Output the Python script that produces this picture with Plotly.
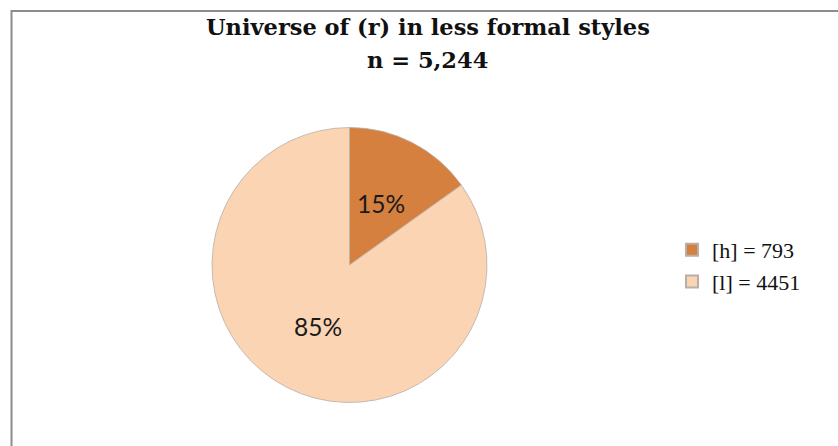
import math
import plotly.graph_objects as go

# Tokens of (r) in less formal styles
categories = ["[h]", "[l]"]
counts = [793, 4451]
colors = ["#D5803E", "#FBD4B4"]

title_line1 = "Universe of (r) in less formal styles"
total = sum(counts)
legend_names = [f"{c} = {n}" for c, n in zip(categories, counts)]

W, H = 838, 446
cx, cy, R = 349.5, 265.0, 137.5  # pie centre and radius in pixels

fig = go.Figure(
    go.Pie(
        labels=legend_names,
        values=counts,
        sort=False,
        direction="clockwise",
        rotation=0,
        marker=dict(colors=colors, line=dict(color="#B8B0A8", width=0.8)),
        textinfo="none",
        hoverinfo="label+percent",
        domain=dict(x=[(cx - R) / W, (cx + R) / W], y=[1 - (cy + R) / H, 1 - (cy - R) / H]),
    )
)

# percentage labels at half radius along each slice's mid-angle
annotations = []
cum = 0
for n in counts:
    mid = (cum + n / 2) / total
    cum += n
    ang = 2 * math.pi * mid
    px = cx + 0.5 * R * math.sin(ang)
    py = cy - 0.5 * R * math.cos(ang)
    annotations.append(
        dict(
            x=px / W, y=1 - py / H, xref="paper", yref="paper",
            text=f"{round(100 * n / total)}%", showarrow=False,
            xanchor="center", yanchor="middle",
            font=dict(family="Lato", size=24.5, color="#1a1a1a"),
        )
    )

annotations += [
    dict(
        x=428 / W, y=1 - 27 / H, xref="paper", yref="paper",
        text=f"<b>{title_line1}</b>", showarrow=False,
        xanchor="center", yanchor="middle",
        font=dict(family="DejaVu Serif", size=22.5, color="#111111"),
    ),
    dict(
        x=428 / W, y=1 - 60 / H, xref="paper", yref="paper",
        text=f"<b>n = {total:,}</b>", showarrow=False,
        xanchor="center", yanchor="middle",
        font=dict(family="DejaVu Serif", size=22.5, color="#111111"),
    ),
]

fig.update_layout(
    width=W,
    height=H,
    margin=dict(l=0, r=0, t=0, b=0),
    paper_bgcolor="white",
    annotations=annotations,
    legend=dict(
        x=672 / W,
        y=1 - 266 / H,
        xanchor="left",
        yanchor="middle",
        font=dict(family="Liberation Serif", size=22, color="#111111"),
        itemsizing="constant",
        tracegroupgap=0,
    ),
    shapes=[
        dict(
            type="rect",
            xref="paper",
            yref="paper",
            x0=11.5 / W,
            x1=1.02,
            y0=-0.05,
            y1=1 - 11 / H,
            line=dict(color="#8C8C8C", width=2),
            fillcolor="rgba(0,0,0,0)",
        )
    ],
)

fig.write_html("out.html")
